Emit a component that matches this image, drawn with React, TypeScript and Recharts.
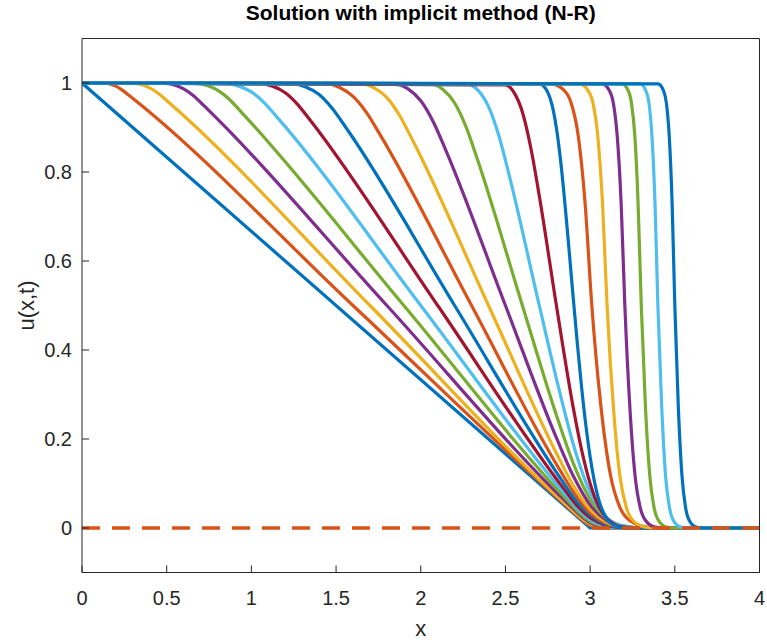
import { Line, LineChart, XAxis, YAxis } from "recharts";

type Pt = [number, number];

// x ticks / u ticks (MATLAB-style axes)
const xTicks = [0, 0.5, 1, 1.5, 2, 2.5, 3, 3.5, 4];
const yTicks = [0, 0.2, 0.4, 0.6, 0.8, 1];

// profiles u(x), one per time level
const u01: Pt[] = [[0, 1], [3, 0], [4, 0]];
const u02: Pt[] = [[0, 1], [0.125, 1], [0.163, 0.998], [0.2, 0.993], [0.238, 0.984], [0.275, 0.973], [1.6, 0.5], [2.933, 0.025], [2.966, 0.014], [3, 0.006], [3.034, 0.002], [3.068, 0], [4, 0]];
const u03: Pt[] = [[0, 1], [0.295, 0.999], [0.348, 0.997], [0.4, 0.989], [0.453, 0.976], [0.505, 0.959], [1.7, 0.5], [2.91, 0.035], [2.955, 0.02], [3, 0.009], [3.045, 0.003], [3.09, 0.001], [3.15, 0], [4, 0]];
const u04: Pt[] = [[0, 1], [0.48, 0.999], [0.54, 0.996], [0.6, 0.987], [0.66, 0.971], [0.72, 0.949], [1.8, 0.5], [2.888, 0.048], [2.944, 0.028], [3, 0.012], [3.056, 0.004], [3.113, 0.001], [3.188, 0], [4, 0]];
const u05: Pt[] = [[0, 1], [0.665, 0.999], [0.733, 0.995], [0.8, 0.984], [0.868, 0.964], [0.935, 0.937], [1.9, 0.5], [2.873, 0.059], [2.936, 0.034], [3, 0.015], [3.064, 0.005], [3.128, 0.001], [3.213, 0], [4, 0]];
const u06: Pt[] = [[0, 1], [0.85, 0.999], [0.925, 0.993], [1, 0.98], [1.075, 0.956], [1.15, 0.924], [2, 0.5], [2.858, 0.073], [2.929, 0.042], [3, 0.019], [3.071, 0.006], [3.143, 0.001], [3.238, 0], [4, 0]];
const u07: Pt[] = [[0, 1], [1.05, 0.998], [1.125, 0.993], [1.2, 0.978], [1.275, 0.951], [1.35, 0.915], [2.1, 0.5], [2.843, 0.089], [2.921, 0.051], [3, 0.023], [3.079, 0.008], [3.158, 0.002], [3.263, 0], [4, 0]];
const u08: Pt[] = [[0, 1], [1.243, 0.998], [1.321, 0.991], [1.4, 0.974], [1.479, 0.942], [1.558, 0.9], [2.2, 0.5], [2.828, 0.11], [2.914, 0.063], [3, 0.029], [3.086, 0.009], [3.173, 0.002], [3.288, 0], [4, 0]];
const u09: Pt[] = [[0, 1], [1.443, 0.998], [1.521, 0.99], [1.6, 0.97], [1.679, 0.934], [1.758, 0.885], [2.3, 0.5], [2.82, 0.131], [2.91, 0.076], [3, 0.034], [3.09, 0.011], [3.18, 0.003], [3.3, 0], [4, 0]];
const u10: Pt[] = [[0, 1], [1.65, 0.998], [1.725, 0.989], [1.8, 0.967], [1.875, 0.927], [1.95, 0.873], [2.4, 0.5], [2.813, 0.159], [2.906, 0.092], [3, 0.042], [3.094, 0.014], [3.188, 0.003], [3.313, 0], [4, 0]];
const u11: Pt[] = [[0, 1], [1.85, 0.997], [1.925, 0.987], [2, 0.96], [2.075, 0.912], [2.15, 0.847], [2.5, 0.5], [2.805, 0.199], [2.903, 0.115], [3, 0.052], [3.098, 0.017], [3.195, 0.004], [3.325, 0], [4, 0]];
const u12: Pt[] = [[0, 1], [2.065, 0.997], [2.133, 0.985], [2.2, 0.955], [2.268, 0.901], [2.335, 0.828], [2.6, 0.5], [2.805, 0.249], [2.903, 0.143], [3, 0.065], [3.098, 0.021], [3.195, 0.005], [3.325, 0], [4, 0]];
const u13: Pt[] = [[0, 1], [2.28, 0.996], [2.34, 0.983], [2.4, 0.947], [2.46, 0.883], [2.52, 0.796], [2.7, 0.5], [2.82, 0.306], [2.91, 0.176], [3, 0.08], [3.09, 0.026], [3.18, 0.006], [3.3, 0], [4, 0]];
const u14: Pt[] = [[0, 1], [2.5, 0.996], [2.55, 0.979], [2.6, 0.935], [2.65, 0.854], [2.7, 0.746], [2.8, 0.502], [2.9, 0.271], [2.95, 0.175], [3, 0.1], [3.05, 0.049], [3.1, 0.021], [3.15, 0.007], [3.2, 0.002], [3.3, 0], [4, 0]];
const u15: Pt[] = [[0, 1], [2.7, 0.998], [2.75, 0.979], [2.775, 0.951], [2.8, 0.901], [2.825, 0.828], [2.85, 0.734], [2.875, 0.628], [2.9, 0.518], [2.925, 0.412], [2.95, 0.315], [2.975, 0.23], [3, 0.16], [3.025, 0.105], [3.05, 0.065], [3.1, 0.02], [3.15, 0.005], [3.2, 0.001], [3.3, 0], [4, 0]];
const u16: Pt[] = [[0, 1], [2.77, 0.998], [2.85, 0.982], [2.89, 0.953], [2.93, 0.881], [2.97, 0.731], [3.01, 0.5], [3.065, 0.269], [3.12, 0.119], [3.175, 0.047], [3.23, 0.018], [3.34, 0.002], [3.45, 0], [4, 0]];
const u17: Pt[] = [[0, 1], [2.935, 0.998], [2.99, 0.982], [3.018, 0.953], [3.045, 0.881], [3.073, 0.731], [3.1, 0.5], [3.138, 0.269], [3.175, 0.119], [3.213, 0.047], [3.25, 0.018], [3.325, 0.002], [3.4, 0], [4, 0]];
const u18: Pt[] = [[0, 1], [3.07, 0.998], [3.115, 0.982], [3.138, 0.953], [3.16, 0.881], [3.183, 0.731], [3.205, 0.5], [3.235, 0.269], [3.265, 0.119], [3.295, 0.047], [3.325, 0.018], [3.385, 0.002], [3.445, 0], [4, 0]];
const u19: Pt[] = [[0, 1], [3.188, 0.998], [3.226, 0.982], [3.245, 0.953], [3.264, 0.881], [3.283, 0.731], [3.302, 0.5], [3.327, 0.269], [3.352, 0.119], [3.377, 0.047], [3.402, 0.018], [3.452, 0.002], [3.502, 0], [4, 0]];
const u20: Pt[] = [[0, 1], [3.295, 0.998], [3.33, 0.982], [3.348, 0.953], [3.365, 0.881], [3.383, 0.731], [3.4, 0.5], [3.423, 0.269], [3.445, 0.119], [3.468, 0.047], [3.49, 0.018], [3.535, 0.002], [3.58, 0], [4, 0]];
const u21: Pt[] = [[0, 1], [3.401, 0.998], [3.434, 0.982], [3.451, 0.953], [3.467, 0.881], [3.484, 0.731], [3.5, 0.5], [3.521, 0.269], [3.542, 0.119], [3.563, 0.047], [3.584, 0.018], [3.626, 0.002], [3.668, 0], [4, 0]];

// the dashed u = 0 line
const zeroLine: Pt[] = [[0, 0], [4, 0]];

const profiles = [u01, u02, u03, u04, u05, u06, u07, u08, u09, u10, u11, u12, u13, u14, u15, u16, u17, u18, u19, u20, u21];

// matlab default colour order
const BLUE = "#0072BD";
const ORANGE = "#D95319";
const YELLOW = "#EDB120";
const PURPLE = "#7E2F8E";
const GREEN = "#77AC30";
const LBLUE = "#4DBEEE";
const DRED = "#A2142F";
const lineColors = [
  BLUE, ORANGE, YELLOW, PURPLE, GREEN, LBLUE, DRED,
  BLUE, ORANGE, YELLOW, PURPLE, GREEN, LBLUE, DRED,
  BLUE, ORANGE, YELLOW, PURPLE, GREEN, LBLUE, BLUE,
];

const FONT = '"Liberation Sans", Arial, Helvetica, sans-serif';
const INK = "#262626";

const toRows = (pts: Pt[]) => pts.map(([x, u]) => ({ x, u }));

export default function App() {
  const tickStyle = { fill: INK, fontSize: 20, fontFamily: FONT };
  // axes get 1px of room each (0 makes recharts skip drawing them)
  return (
    <div style={{ position: "fixed", left: 0, top: 0, width: 767, height: 643, background: "#fff" }}>
      <LineChart width={767} height={643} margin={{ top: 37.5, right: 6.5, bottom: 69.5, left: 81 }}>
        <XAxis xAxisId="b" type="number" dataKey="x" domain={[0, 4]} ticks={xTicks} allowDataOverflow
          height={1} tickSize={-7} tickMargin={25} tick={tickStyle}
          axisLine={{ stroke: INK }} tickLine={{ stroke: INK }} />
        <XAxis xAxisId="t" orientation="top" type="number" dataKey="x" domain={[0, 4]} ticks={xTicks} allowDataOverflow
          height={1} tickSize={-7} tick={false}
          axisLine={{ stroke: INK }} tickLine={{ stroke: INK }} />
        <YAxis yAxisId="l" type="number" domain={[-0.1, 1.1]} ticks={yTicks} allowDataOverflow
          width={1} tickSize={-7} tickMargin={17} tick={tickStyle}
          axisLine={{ stroke: INK }} tickLine={{ stroke: INK }} />
        <YAxis yAxisId="r" orientation="right" type="number" domain={[-0.1, 1.1]} ticks={yTicks} allowDataOverflow
          width={1} tickSize={-7} tick={false}
          axisLine={{ stroke: INK }} tickLine={{ stroke: INK }} />
        {profiles.map((p, i) => (
          <Line key={i} xAxisId="b" yAxisId="l" data={toRows(p)} dataKey="u"
            type={i === 0 ? "linear" : "monotone"} stroke={lineColors[i]} strokeWidth={3.2}
            dot={false} activeDot={false} isAnimationActive={false} />
        ))}
        <Line xAxisId="t" yAxisId="r" data={toRows(zeroLine)} dataKey="u" type="linear"
          stroke={ORANGE} strokeWidth={3.5} strokeDasharray="18 12"
          dot={false} activeDot={false} isAnimationActive={false} />
      </LineChart>
      <svg width={767} height={643} style={{ position: "absolute", left: 0, top: 0, pointerEvents: "none" }}>
        <text x={420.75} y={20} textAnchor="middle" fontFamily={FONT} fontWeight="bold" fontSize={21} fill="#000">
          Solution with implicit method (N-R)
        </text>
        <text x={420.75} y={636} textAnchor="middle" fontFamily={FONT} fontSize={22} fill={INK}>x</text>
        <text transform="translate(34,305.5) rotate(-90)" textAnchor="middle" fontFamily={FONT} fontSize={22} fill={INK}>
          u(x,t)
        </text>
      </svg>
    </div>
  );
}
